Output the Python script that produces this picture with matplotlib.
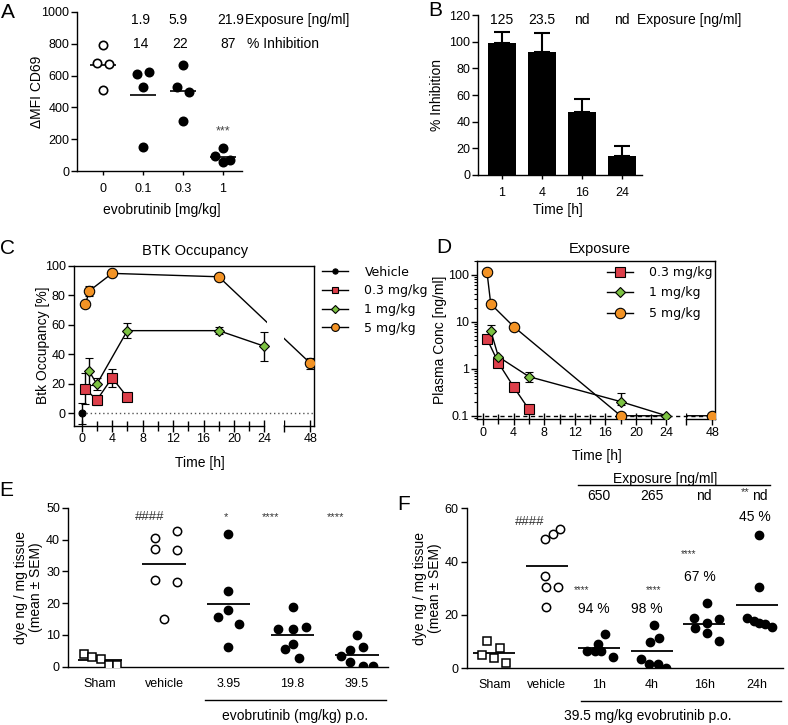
import numpy as np
import matplotlib
matplotlib.use('Agg')
import matplotlib.pyplot as plt
from matplotlib.lines import Line2D
from matplotlib.patches import Rectangle

plt.rcParams['font.family'] = ['Liberation Sans', 'DejaVu Sans']
plt.rcParams['font.size'] = 9
plt.rcParams['axes.linewidth'] = 1.0
plt.rcParams['xtick.major.width'] = 1.0
plt.rcParams['ytick.major.width'] = 1.0
plt.rcParams['xtick.minor.width'] = 1.0
plt.rcParams['ytick.minor.width'] = 0.8

# ---------------- data ----------------
# A: CD69 ex vivo, per-animal values
a_dose = ['0', '0.1', '0.3', '1']
a_vals = [[790, 680, 675, 510],
          [610, 621, 528, 153],
          [667, 530, 499, 314],
          [142, 96, 55, 67]]
a_expo = ['1.9', '5.9', '21.9']
a_inhib = ['14', '22', '87']

# B: % inhibition over time
b_time = ['1', '4', '16', '24']
b_inhib = [99, 92.6, 47.4, 14.3]
b_sem = [8.8, 13.8, 9.8, 7.5]
b_expo = ['125', '23.5', 'nd', 'nd']

# C: BTK occupancy
c_veh_t, c_veh, c_veh_e = [0], [0], [7]
c_03_t = [0.5, 2, 4, 6]
c_03 = [16.5, 9, 24, 11]
c_03_e = [10.5, 3.6, 6, 2]
c_1_t = [1, 2, 6, 18, 24]
c_1 = [28.4, 19.8, 56, 56, 45.4]
c_1_e = [9, 4, 5, 2.6, 10]
c_5_t = [0.5, 1, 4, 18, 48]
c_5 = [73.8, 82.9, 94.8, 92.5, 34]
c_5_e = [0, 3.6, 0, 0, 3.7]

# D: plasma concentration
d_03_t = [0.5, 2, 4, 6]
d_03 = [4.35, 1.34, 0.41, 0.136]
d_03_lo = [0.7, 0.15, 0.05, 0]
d_03_hi = [0, 0, 0, 0]
d_1_t = [1, 2, 6, 18, 24]
d_1 = [6.5, 1.8, 0.68, 0.2, 0.1]
d_1_lo = [0.5, 0, 0.15, 0.03, 0]
d_1_hi = [1.9, 0, 0.17, 0.11, 0]
d_5_t = [0.5, 1, 4, 18, 48]
d_5 = [117, 24, 7.9, 0.1, 0.1]

# E: dye extravasation, dose response
e_groups = ['Sham', 'vehicle', '3.95', '19.8', '39.5']
e_vals = [[4.0, 3.1, 2.3, 0.5, 0.5],
          [40.6, 37.0, 27.3, 42.7, 36.8, 26.5, 14.9],
          [41.6, 23.9, 17.8, 6.3, 15.6, 13.3],
          [18.7, 11.7, 11.7, 12.4, 7.2, 5.5, 2.7],
          [10.1, 3.5, 5.2, 6.1, 1.4, 0.2, 0.2]]
e_stars = ['####', '*', '****', '****']

# F: dye extravasation, time course
f_groups = ['Sham', 'vehicle', '1h', '4h', '16h', '24h']
f_vals = [[5.0, 10.1, 3.8, 7.6, 2.0],
          [48.4, 50.3, 52.1, 34.6, 30.5, 30.5, 23.1],
          [6.5, 9.3, 12.8, 6.5, 6.5, 4.3],
          [3.5, 1.6, 1.6, 0.1, 10.0, 11.3, 16.3],
          [24.6, 18.8, 17.1, 18.4, 15.0, 13.1, 10.4],
          [50.0, 30.4, 18.8, 17.9, 17.1, 16.5, 15.6]]
f_expo = ['650', '265', 'nd', 'nd']
f_inhib = ['94 %', '98 %', '67 %', '45 %']
f_stars = ['****', '****', '****', '**']

# ---------------- layout (horizontal spread of dots) ----------------
a_dx = [[0, -0.16, 0.15, 0], [-0.16, 0.15, 0, 0], [0, -0.16, 0.14, 0], [0, -0.2, 0, 0.18]]
e_dx = [[-0.25, -0.12, 0.01, 0.14, 0.27],
        [-0.15, -0.15, -0.15, 0.2, 0.2, 0.2, 0],
        [0, 0, 0, 0, -0.16, 0.17],
        [0, -0.22, 0, 0.21, 0, -0.12, 0.1],
        [0, -0.24, -0.1, 0.09, -0.1, 0.09, 0.25]]
f_dx = [[-0.23, -0.13, -0.01, 0.10, 0.22],
        [-0.03, 0.11, 0.25, -0.03, -0.01, 0.22, -0.01],
        [-0.23, -0.02, 0.11, -0.09, 0.04, 0.27],
        [-0.21, -0.05, 0.11, 0.28, -0.03, 0.13, 0.04],
        [0.06, -0.19, 0.06, 0.29, -0.18, 0.06, 0.29],
        [0.04, 0.04, -0.19, -0.06, 0.05, 0.16, 0.29]]

W, H = 788, 725
T48 = 30.0       # where 48 h sits on the broken axis
BRK = 26.6       # end of the axis break

def box(l, t, r, b):
    return [l / W, 1 - b / H, (r - l) / W, (b - t) / H]

def tmap(ts):
    return [t if t <= 24 else T48 for t in ts]

fig = plt.figure(figsize=(W / 100, H / 100), dpi=100)

# panel letters
for lab, x, y in [('A', 8, 12), ('B', 435, 10), ('C', 8, 249), ('D', 444, 248), ('E', 6, 490), ('F', 404, 505)]:
    fig.text(x / W, 1 - y / H, lab, fontsize=15, ha='center', va='center')

# ================= A =================
axA = fig.add_axes(box(77, 12, 242, 171))
for i, vals in enumerate(a_vals):
    xs = i + np.array(a_dx[i])
    fc = 'white' if i == 0 else 'black'
    axA.plot(xs, vals, 'o', ms=6, mfc=fc, mec='k', mew=1.2, zorder=3)
    axA.hlines(np.mean(vals), i - 0.32, i + 0.32, color='k', lw=1.2, zorder=2)
axA.set_xlim(-0.65, 3.475)
axA.set_ylim(0, 1000)
axA.set_yticks(range(0, 1001, 200))
axA.set_xticks(range(4))
axA.set_xticklabels(a_dose)
axA.spines[['top', 'right']].set_visible(False)
axA.tick_params(axis='y', length=4, pad=1.5)
axA.tick_params(axis='x', length=3, pad=6)
axA.set_ylabel('ΔMFI CD69', fontsize=10)
axA.yaxis.set_label_coords(-0.2, 0.5)
axA.set_xlabel('evobrutinib [mg/kg]', fontsize=10)
axA.xaxis.set_label_coords(0.515, -0.2)
for x, s in zip([0.95, 1.88, 3.18], a_expo):
    axA.text(x, 950, s, ha='center', va='center', fontsize=10)
for x, s in zip([0.95, 1.93, 3.13], a_inhib):
    axA.text(x, 800, s, ha='center', va='center', fontsize=10)
axA.text(3.56, 950, 'Exposure [ng/ml]', ha='left', va='center', fontsize=10)
axA.text(3.6, 800, '% Inhibition', ha='left', va='center', fontsize=10)
axA.text(3, 250, '***', ha='center', va='center', fontsize=9, color='#444444')

# ================= B =================
axB = fig.add_axes(box(478, 15.3, 642, 174.7))
bx = np.arange(len(b_time))
axB.bar(bx, b_inhib, width=0.7, color='black', zorder=2)
axB.errorbar(bx, b_inhib, yerr=[np.zeros(len(b_sem)), b_sem], fmt='none',
             ecolor='k', elinewidth=1.5, capsize=6, capthick=1.5, zorder=1)
axB.set_xlim(-0.6, 3.5)
axB.set_ylim(0, 120)
axB.set_yticks(range(0, 121, 20))
axB.set_xticks(bx)
axB.set_xticklabels(b_time)
axB.spines[['top', 'right']].set_visible(False)
axB.tick_params(axis='y', length=4, pad=1.5)
axB.tick_params(axis='x', length=3, pad=6)
axB.set_ylabel('% Inhibition', fontsize=10)
axB.yaxis.set_label_coords(-0.21, 0.5)
axB.set_xlabel('Time [h]', fontsize=10)
axB.xaxis.set_label_coords(0.49, -0.18)
for x, s in zip(bx, b_expo):
    axB.text(x, 116.5, s, ha='center', va='center', fontsize=10)
axB.text(3.37, 116.5, 'Exposure [ng/ml]', ha='left', va='center', fontsize=10)


def broken_time_axis(ax, xlo, xhi):
    ax.set_xlim(xlo, xhi)
    ax.spines['bottom'].set_visible(False)
    tr = ax.get_xaxis_transform()
    ax.plot([xlo, 24], [0, 0], color='k', lw=1.0, transform=tr, clip_on=False, zorder=2.5)
    ax.plot([BRK, xhi], [0, 0], color='k', lw=1.0, transform=tr, clip_on=False, zorder=2.5)
    ax.add_patch(Rectangle((24.3, 0.004), BRK - 24.35, 0.992, transform=tr,
                           fc='white', ec='none', zorder=2.4))
    ax.set_xticks([0, 4, 8, 12, 16, 20, 24, BRK, T48])
    ax.set_xticklabels(['0', '4', '8', '12', '16', '20', '24', '', '48'])
    ax.set_xticks([2, 6, 10, 14, 18, 22], minor=True)
    ax.tick_params(axis='x', which='major', direction='inout', length=9, pad=1)
    ax.tick_params(axis='x', which='minor', direction='inout', length=7)


# ================= C =================
axC = fig.add_axes(box(74, 265.7, 314, 425.7))
c_series = [(c_veh_t, c_veh, c_veh_e, 'o', 5, 'black', 'Vehicle'),
            (c_03_t, c_03, c_03_e, 's', 6.5, '#dd3f4a', '0.3 mg/kg'),
            (c_1_t, c_1, c_1_e, 'D', 5.5, '#7cc242', '1 mg/kg'),
            (c_5_t, c_5, c_5_e, 'o', 7.5, '#f39325', '5 mg/kg')]
c_handles = []
for t, y, e, mk, ms, col, lab in c_series:
    x = tmap(t)
    axC.plot(x, y, '-', color='k', lw=1.0, zorder=2)
    axC.errorbar(x, y, yerr=e, fmt=mk, ms=ms, mfc=col, mec='k', mew=0.8,
                 ecolor='k', elinewidth=1.0, capsize=3, capthick=1.0, zorder=3)
    c_handles.append(Line2D([], [], color='k', lw=1.0, marker=mk, ms=ms * 0.75,
                            mfc=col, mec='k', mew=0.8, label=lab))
axC.hlines(0, 0.6, 30.5, colors='#555555', linestyles=(0, (1, 2)), lw=1.0, zorder=2.45)
broken_time_axis(axC, -1.0, 30.5)
axC.set_ylim(-8.4, 100)
axC.set_yticks(range(0, 101, 20))
axC.tick_params(axis='y', length=4, pad=2)
axC.set_ylabel('Btk Occupancy [%]', fontsize=10)
axC.yaxis.set_label_coords(-0.1, 0.5)
axC.set_xlabel('Time [h]', fontsize=10)
axC.xaxis.set_label_coords(0.525, -0.19)
axC.text(0.504, 1.094, 'BTK Occupancy', transform=axC.transAxes, ha='center', va='center', fontsize=10.5)
axC.legend(handles=c_handles, loc='upper left', bbox_to_anchor=((322 - 74) / 240, 1.0),
           frameon=False, borderpad=0, borderaxespad=0, handlelength=2.1, handletextpad=1.3,
           labelspacing=0.45, prop={'family': 'DejaVu Sans', 'size': 9})

# ================= D =================
axD = fig.add_axes(box(477, 260.7, 715, 419.3))
d_series = [(d_03_t, d_03, [d_03_lo, d_03_hi], 's', 7, '#dd3f4a', '0.3 mg/kg'),
            (d_1_t, d_1, [d_1_lo, d_1_hi], 'D', 5.5, '#7cc242', '1 mg/kg'),
            (d_5_t, d_5, None, 'o', 7.5, '#f39325', '5 mg/kg')]
d_handles = []
for t, y, e, mk, ms, col, lab in d_series:
    x = tmap(t)
    axD.plot(x, y, '-', color='k', lw=1.0, zorder=2)
    axD.errorbar(x, y, yerr=e, fmt=mk, ms=ms, mfc=col, mec='k', mew=0.8,
                 ecolor='k', elinewidth=1.0, capsize=3, capthick=1.0, zorder=3)
    d_handles.append(Line2D([], [], color='k', lw=1.0, marker=mk, ms=ms,
                            mfc=col, mec='k', mew=0.8, label=lab))
axD.set_yscale('log')
axD.axhline(0.1, color='k', ls=(0, (3, 2.5)), lw=1.0, zorder=2.45)
broken_time_axis(axD, -0.8, 30.35)
axD.set_ylim(0.084, 200)
axD.set_yticks([0.1, 1, 10, 100])
axD.set_yticklabels(['0.1', '1', '10', '100'])
axD.tick_params(axis='y', which='major', length=4, pad=2)
axD.tick_params(axis='y', which='minor', length=2.5)
axD.set_ylabel('Plasma Conc [ng/ml]', fontsize=10)
axD.yaxis.set_label_coords(-0.125, 0.5)
axD.set_xlabel('Time [h]', fontsize=10)
axD.xaxis.set_label_coords(0.503, -0.19)
axD.text(0.517, 1.072, 'Exposure', transform=axD.transAxes, ha='center', va='center', fontsize=10.5)
axD.legend(handles=d_handles, loc='upper left', bbox_to_anchor=(0.545, 0.967),
           frameon=False, borderpad=0, borderaxespad=0, handlelength=2.1, handletextpad=1.3,
           labelspacing=0.6, prop={'family': 'DejaVu Sans', 'size': 9})


def dot_panel(ax, vals, dxs, labels, half):
    for i, v in enumerate(vals):
        xs = i + np.array(dxs[i])
        if i == 0:
            ax.plot(xs, v, 's', ms=6, mfc='white', mec='k', mew=1.1, zorder=3)
        elif i == 1:
            ax.plot(xs, v, 'o', ms=6, mfc='white', mec='k', mew=1.1, zorder=3)
        else:
            ax.plot(xs, v, 'o', ms=6, mfc='black', mec='k', mew=1.0, zorder=3)
        ax.hlines(np.mean(v), i - half, i + half, color='k', lw=1.3, zorder=2)
    ax.set_xticks(range(len(labels)))
    ax.set_xticklabels(labels)
    ax.spines[['top', 'right']].set_visible(False)
    ax.tick_params(axis='x', length=0, pad=8)
    ax.tick_params(axis='y', length=4, pad=2)


# ================= E =================
axE = fig.add_axes(box(68.3, 507.7, 388, 666.7))
dot_panel(axE, e_vals, e_dx, e_groups, 0.34)
axE.set_xlim(-0.494, 4.486)
axE.set_ylim(0, 50)
axE.set_yticks(range(0, 51, 10))
axE.set_ylabel('dye ng / mg tissue\n(mean ± SEM)', fontsize=10, linespacing=1.1)
axE.yaxis.set_label_coords(-0.08, 0.5)
for x, s, fs in zip([0.78, 1.96, 2.66, 3.67], e_stars, [9.5, 8, 8, 8]):
    axE.text(x, 47.0, s, ha='center', va='center', fontsize=fs, color='#333333')
trE = axE.get_xaxis_transform()
axE.plot([1.64, 4.45], [-0.209, -0.209], color='k', lw=1.0, transform=trE, clip_on=False)
axE.text(3.04, -0.31, 'evobrutinib (mg/kg) p.o.', transform=trE, ha='center', va='center', fontsize=10)

# ================= F =================
axF = fig.add_axes(box(466.7, 508.3, 783, 668.3))
dot_panel(axF, f_vals, f_dx, f_groups, 0.4)
axF.set_xlim(-0.526, 5.5)
axF.set_ylim(0, 60)
axF.set_yticks(range(0, 61, 20))
axF.set_ylabel('dye ng / mg tissue\n(mean ± SEM)', fontsize=10, linespacing=1.1)
axF.yaxis.set_label_coords(-0.078, 0.5)
axF.text(0.68, 55, '####', ha='center', va='center', fontsize=9.5, color='#333333')
for x, y, s, fs in zip([1.66, 3.03, 3.7, 4.78], [29.2, 29.2, 43, 66], f_stars, [7, 7, 7, 8]):
    axF.text(x, y, s, ha='center', va='center', fontsize=fs, color='#333333')
for x, y, s in zip([1.89, 2.9, 3.92, 4.97], [22.3, 22.3, 34.2, 56.8], f_inhib):
    axF.text(x, y, s, ha='center', va='center', fontsize=10)
axF.text(3.25, 70.9, 'Exposure [ng/ml]', ha='center', va='center', fontsize=10)
axF.plot([1.6, 5.25], [68.7, 68.7], color='k', lw=1.0, clip_on=False)
for x, s in zip([2, 3, 4, 5.06], f_expo):
    axF.text(x, 64.6, s, ha='center', va='center', fontsize=10)
trF = axF.get_xaxis_transform()
axF.plot([1.66, 5.47], [-0.204, -0.204], color='k', lw=1.0, transform=trF, clip_on=False)
axF.text(2.93, -0.298, '39.5 mg/kg evobrutinib p.o.', transform=trF, ha='center', va='center', fontsize=10)

fig.savefig('out.png', dpi=100)
